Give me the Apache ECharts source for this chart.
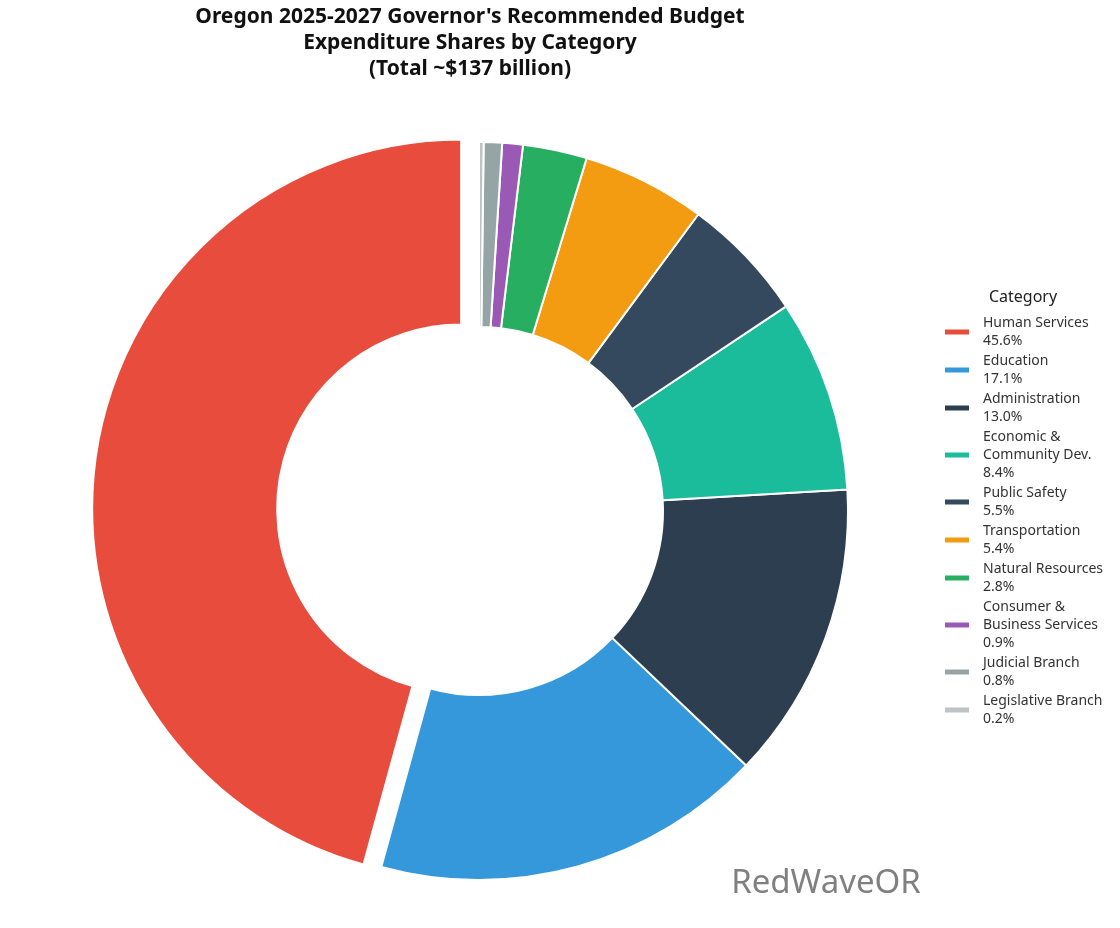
<!DOCTYPE html>
<html>
<head>
<meta charset="utf-8">
<script src="https://cdn.jsdelivr.net/npm/echarts@6/dist/echarts.min.js"></script>
<style>
  html, body { margin: 0; padding: 0; background: #fff; }
  #main { width: 1120px; height: 928px; }
</style>
</head>
<body>
<div id="main"></div>
<script>
// 预算分类数据
var categories = ['Human Services', 'Education', 'Administration', 'Economic &\nCommunity Dev.',
  'Public Safety', 'Transportation', 'Natural Resources', 'Consumer &\nBusiness Services',
  'Judicial Branch', 'Legislative Branch'];
var shares = [45.6, 17.1, 13.0, 8.4, 5.5, 5.4, 2.8, 0.9, 0.8, 0.2];
var colors = ['#e74c3c', '#3498db', '#2c3e50', '#1abc9c', '#34495e',
  '#f39c12', '#27ae60', '#9b59b6', '#95a5a6', '#bdc3c7'];

var font = '"Noto Sans", "Open Sans", sans-serif';

var pieData = categories.map(function (name, i) {
  return { name: name, value: shares[i], selected: i === 0 };
});

var config = {
  color: colors,
  animation: false,
  legend: {
    orient: 'vertical',
    left: 938,
    top: 309,
    itemWidth: 26,
    itemHeight: 7,
    itemGap: 2,
    icon: 'rect',
    selectedMode: false,
    textStyle: { fontFamily: font, fontSize: 14, color: '#333', lineHeight: 18, padding: [0, 0, 0, 8] },
    formatter: function (name) {
      var i = categories.indexOf(name);
      return name + '\n' + shares[i].toFixed(1) + '%';
    }
  },
  graphic: [
    {
      type: 'text', x: 470, y: 4,
      style: {
        text: "Oregon 2025-2027 Governor's Recommended Budget\nExpenditure Shares by Category\n(Total ~$137 billion)",
        textAlign: 'center', fill: '#111', fontFamily: font, fontSize: 21, fontWeight: 'bold', lineHeight: 26
      }
    },
    {
      type: 'text', x: 1023, y: 289,
      style: { text: 'Category', textAlign: 'center', fill: '#222', fontFamily: font, fontSize: 16 }
    },
    {
      type: 'text', x: 826, y: 867,
      style: { text: 'RedWaveOR', textAlign: 'center', fill: '#808080', fontFamily: font, fontSize: 33 }
    }
  ],
  series: [
    {
      type: 'pie',
      center: [479, 511],
      radius: [184, 369],
      startAngle: 90,
      clockwise: false,
      selectedMode: 'multiple',
      selectedOffset: 18,
      label: { show: false },
      labelLine: { show: false },
      itemStyle: { borderColor: '#fff', borderWidth: 2 },
      emphasis: { disabled: true },
      data: pieData
    }
  ]
};

var myChart = echarts.init(document.getElementById('main'));
myChart.setOption(config);
</script>
</body>
</html>
